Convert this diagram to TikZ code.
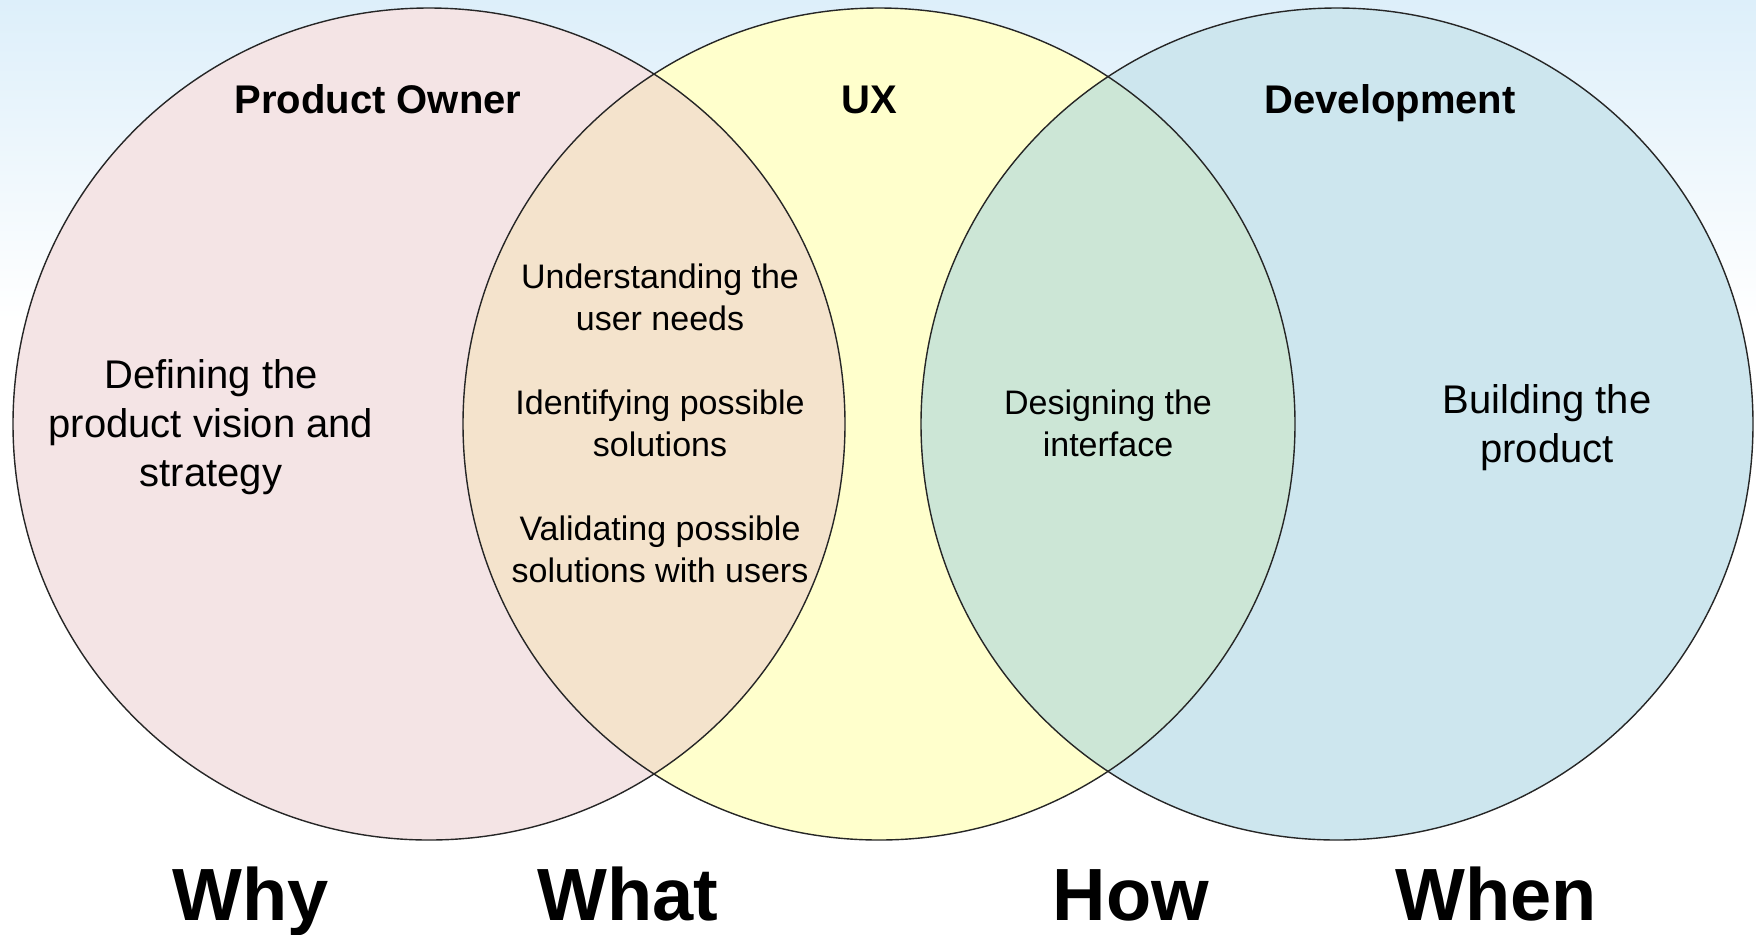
\documentclass[tikz,border=0pt]{standalone}
\usepackage{fontspec}
\setmainfont{Liberation Sans}
\usetikzlibrary{positioning}

\definecolor{poPink}{HTML}{F4E4E5}
\definecolor{uxYellow}{HTML}{FFFFCC}
\definecolor{devBlue}{HTML}{CDE6EE}
\definecolor{poUx}{HTML}{F4E3CC}
\definecolor{uxDev}{HTML}{CCE6D6}
\definecolor{skyTop}{HTML}{DDEFFA}

\begin{document}
\begin{tikzpicture}[x=0.5pt,y=-0.5pt,
  set/.style = {circle, minimum size=416pt, inner sep=0pt},
  rim/.style = {draw=black!85, line width=0.7pt},
  head/.style = {font=\bfseries\fontsize{20}{24}\selectfont, anchor=base},
  big/.style = {font=\bfseries\fontsize{37}{44}\selectfont, anchor=base},
  txt/.style = {align=center, font=\fontsize{20}{24.5}\selectfont},
  small/.style = {align=center, font=\fontsize{17}{21}\selectfont}]

\useasboundingbox (0,0) rectangle (1756,934);
\shade[top color=skyTop, bottom color=white] (0,0) rectangle (1756,320);

% the three sets
\node[set, fill=poPink] (po) at (429,424) {};
\node[set, fill=uxYellow] (ux) at (879,424) {};
\node[set, fill=devBlue] (dev) at (1337,424) {};

% overlaps
\begin{scope}
  \clip (po.center) circle[radius=208pt];
  \fill[poUx] (ux.center) circle[radius=208pt];
\end{scope}
\begin{scope}
  \clip (ux.center) circle[radius=208pt];
  \fill[uxDev] (dev.center) circle[radius=208pt];
\end{scope}

\foreach \c in {po,ux,dev}
  \draw[rim] (\c.center) circle[radius=208pt];

% titles
\node[head] (poT) at (378,113) {Product Owner};
\node[head] (uxT) at (869,113) {UX};
\node[head] (devT) at (1390,113) {Development};

% contents
\node[txt] (why1) at (211,427) {Defining the\\product vision and\\strategy};
\node[small] (what1) at (660,423) {Understanding the\\user needs\\[21pt]Identifying possible\\solutions\\[21pt]Validating possible\\solutions with users};
\node[small] (how1) at (1108,423) {Designing the\\interface};
\node[txt] (when1) at (1547,428) {Building the\\product};

% questions
\node[big] (why) at (251,920) {Why};
\node[big] (what) at (628,920) {What};
\node[big] (how) at (1131,920) {How};
\node[big] (when) at (1496,920) {When};
\end{tikzpicture}
\end{document}
